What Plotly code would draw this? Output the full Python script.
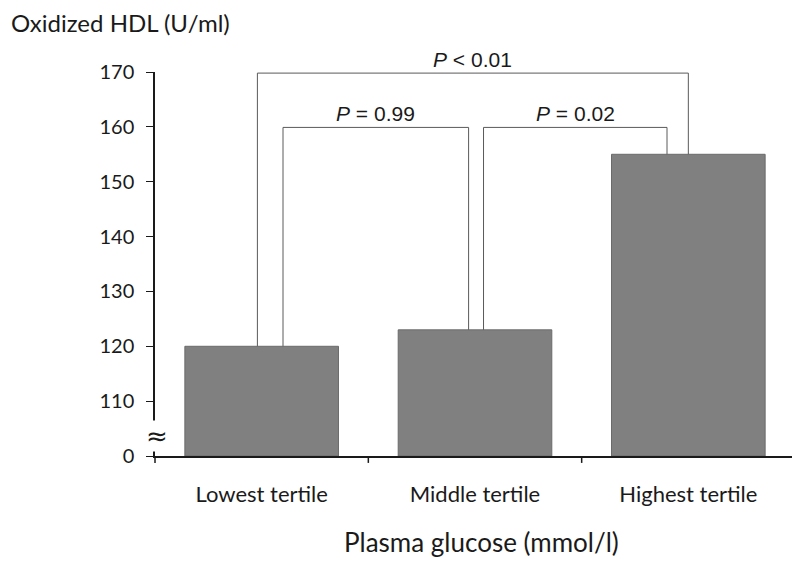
import plotly.graph_objects as go

categories = ["Lowest tertile", "Middle tertile", "Highest tertile"]
values = [120, 123, 155]
y_ticks = [100, 110, 120, 130, 140, 150, 160, 170]
y_ticktext = ["0", "110", "120", "130", "140", "150", "160", "170"]
axis_base = 100  # displayed as 0 (broken axis)

# comparisons: (from idx, to idx, bracket level, label, offset a, offset b)
comparisons = [
    (0, 1, 159.9, "<i>P</i> = 0.99", 0.1, -0.03),
    (1, 2, 159.9, "<i>P</i> = 0.02", 0.04, -0.1),
    (0, 2, 169.8, "<i>P</i> < 0.01", -0.02, 0.0),
]

fig = go.Figure()
fig.add_trace(go.Bar(
    x=[0, 1, 2], y=[v - axis_base for v in values], base=axis_base,
    width=0.72, marker=dict(color="#808080", line=dict(color="#6a6a6a", width=1)),
    showlegend=False, hoverinfo="skip"))

line_col = "#5a5a5a"
for a, b, lvl, label, da, db in comparisons:
    xa, xb = a + da, b + db
    fig.add_shape(type="line", x0=xa, x1=xa, y0=values[a], y1=lvl, line=dict(color=line_col, width=1))
    fig.add_shape(type="line", x0=xa, x1=xb, y0=lvl, y1=lvl, line=dict(color=line_col, width=1))
    fig.add_shape(type="line", x0=xb, x1=xb, y0=lvl, y1=values[b], line=dict(color=line_col, width=1))
    fig.add_annotation(x=(xa + xb) / 2, y=lvl, text=label, showarrow=False, yanchor="bottom",
                       yshift=0, font=dict(family="Liberation Sans, Arial", size=21, color="#1a1a1a"))

# axis break symbol
fig.add_annotation(xref="paper", x=0.003, xanchor="center", y=103.6, text="≈", showarrow=False,
                   bgcolor="white", font=dict(family="DejaVu Sans", size=26, color="#1a1a1a"),
                   borderpad=0)

fig.add_annotation(xref="paper", yref="paper", x=-0.228, y=1.13, xanchor="left", yanchor="middle",
                   text="Oxidized HDL (U/ml)", showarrow=False,
                   font=dict(family="Lato, Open Sans", size=24, color="#1a1a1a"))
fig.add_annotation(xref="paper", yref="paper", x=0.51, y=-0.224, xanchor="center", yanchor="middle",
                   text="Plasma glucose (mmol/l)", showarrow=False,
                   font=dict(family="Lato, Open Sans", size=26, color="#1a1a1a"))

fig.update_layout(
    width=792, height=553, plot_bgcolor="white", paper_bgcolor="white",
    margin=dict(l=147, r=5, t=64, b=105),
    font=dict(family="Lato, Open Sans", size=19, color="#1a1a1a"),
    xaxis=dict(range=[-0.5, 2.5], tickvals=[0, 1, 2], ticktext=categories, ticks="",
               showline=True, linecolor="#1a1a1a", linewidth=1.5, showgrid=False, zeroline=False,
               ticklabelstandoff=18, tickfont=dict(size=22), automargin=False),
    yaxis=dict(range=[100, 170], tickvals=y_ticks, ticktext=y_ticktext, ticks="outside",
               ticklen=7, tickcolor="#1a1a1a", showline=True, linecolor="#1a1a1a", linewidth=1.5,
               showgrid=False, zeroline=False, ticklabelstandoff=8, tickfont=dict(size=20),
               automargin=False),
)
# boundary tick marks on x axis
for xb in [0.5, 1.5, 2.5]:
    fig.add_shape(type="line", xref="x", yref="paper", x0=xb, x1=xb, y0=0, y1=-0.018,
                  line=dict(color="#1a1a1a", width=1.5))
fig.add_shape(type="line", xref="paper", yref="paper", x0=0, x1=0, y0=0, y1=-0.018,
              line=dict(color="#1a1a1a", width=1.5))

fig.write_html("out.html")
